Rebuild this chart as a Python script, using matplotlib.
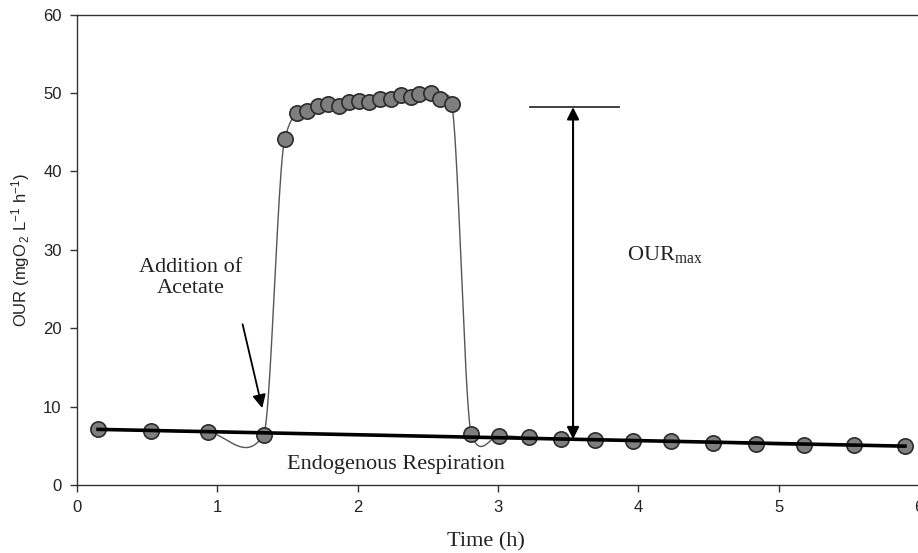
import numpy as np
import matplotlib
matplotlib.use("Agg")
import matplotlib.pyplot as plt

# Oxygen uptake rate during an acetate pulse respirometry test
time_h = [0.15, 0.53, 0.93, 1.33, 1.48, 1.57, 1.64, 1.72, 1.79, 1.87, 1.94,
          2.01, 2.08, 2.16, 2.24, 2.31, 2.38, 2.44, 2.52, 2.59, 2.67, 2.81,
          3.01, 3.22, 3.45, 3.69, 3.96, 4.23, 4.53, 4.84, 5.18, 5.54, 5.90]
our = [7.1, 6.9, 6.7, 6.4, 44.1, 47.4, 47.7, 48.3, 48.6, 48.4, 48.9,
       49.0, 48.8, 49.2, 49.2, 49.7, 49.5, 49.9, 50.0, 49.2, 48.6, 6.5,
       6.3, 6.1, 5.9, 5.7, 5.65, 5.57, 5.4, 5.2, 5.1, 5.06, 4.97]
# indices of the points belonging to the substrate-degradation plateau
plateau = range(4, 21)

our_max = 48.2
our_max_x = 3.535
acetate_time = 1.32

x_ticks = [0, 1, 2, 3, 4, 5, 6]
y_ticks = [0, 10, 20, 30, 40, 50, 60]


def cardinal_spline(x, y, c=0.42, n=40):
    x = np.asarray(x, float)
    y = np.asarray(y, float)
    m = np.zeros_like(y)
    m[1:-1] = c * (y[2:] - y[:-2]) / (x[2:] - x[:-2])
    m[0] = c * (y[1] - y[0]) / (x[1] - x[0])
    m[-1] = c * (y[-1] - y[-2]) / (x[-1] - x[-2])
    xs, ys = [], []
    for i in range(len(x) - 1):
        h = x[i + 1] - x[i]
        t = np.linspace(0, 1, n, endpoint=(i == len(x) - 2))
        h00 = 2 * t**3 - 3 * t**2 + 1
        h10 = t**3 - 2 * t**2 + t
        h01 = -2 * t**3 + 3 * t**2
        h11 = t**3 - t**2
        xs.append(x[i] + t * h)
        ys.append(h00 * y[i] + h10 * h * m[i] + h01 * y[i + 1] + h11 * h * m[i + 1])
    return np.concatenate(xs), np.concatenate(ys)


plt.rcParams["font.family"] = ["Liberation Sans", "DejaVu Sans"]
plt.rcParams["mathtext.fontset"] = "custom"
plt.rcParams["mathtext.rm"] = "Liberation Sans"
plt.rcParams["mathtext.it"] = "Liberation Sans"

fig = plt.figure(figsize=(9.18, 5.53), dpi=100)
ax = fig.add_axes([0.0839, 0.123, 0.9171, 0.8505])

# smooth curve through the measurements
sx, sy = cardinal_spline(time_h, our)
ax.plot(sx, sy, color="#555555", lw=1.0, zorder=2)
ax.plot(time_h, our, "o", ms=11, mfc="#7f7f7f", mec="#2b2b2b", mew=1.2, zorder=3)

# endogenous respiration baseline (linear fit without the plateau)
base_idx = [i for i in range(len(time_h)) if i not in plateau]
bx = np.array([time_h[i] for i in base_idx])
by = np.array([our[i] for i in base_idx])
slope, icpt = np.polyfit(bx, by, 1)
lx = np.array([time_h[0], time_h[-1]])
ax.plot(lx, slope * lx + icpt, color="black", lw=2.6, zorder=4)

serif = ["Liberation Serif", "DejaVu Serif"]

# OURmax double arrow and cap line
base_at_arrow = slope * our_max_x + icpt
ax.annotate("", xy=(our_max_x, our_max), xytext=(our_max_x, base_at_arrow),
            arrowprops=dict(arrowstyle="<|-|>", color="black", lw=1.5,
                            mutation_scale=18, shrinkA=0, shrinkB=0), zorder=5)
ax.plot([3.23, 3.86], [our_max, our_max], color="#333333", lw=1.3, zorder=5)
ax.text(3.92, 29.3, r"OUR$_{\mathregular{max}}$", family=serif, fontsize=16,
        ha="left", va="center", color="#222222")

# substrate addition
ax.annotate("", xy=(acetate_time, 9.8), xytext=(1.18, 20.5),
            arrowprops=dict(arrowstyle="-|>", color="black", lw=1.3,
                            mutation_scale=20, shrinkA=0, shrinkB=0), zorder=5)
ax.text(0.81, 26.4, "Addition of\nAcetate", family=serif, fontsize=16,
        ha="center", va="center", multialignment="center", color="#222222",
        linespacing=1.2)

ax.text(2.27, 2.55, "Endogenous Respiration", family=serif, fontsize=16,
        ha="center", va="center", color="#222222")

ax.set_xlim(0, 6)
ax.set_ylim(0, 60)
ax.set_xticks(x_ticks)
ax.set_yticks(y_ticks)
ax.tick_params(direction="out", length=5, width=1, color="#333333",
               labelsize=12, labelcolor="#222222", pad=6)
ax.spines["right"].set_visible(False)
for s in ("left", "bottom", "top"):
    ax.spines[s].set_color("#333333")
    ax.spines[s].set_linewidth(1.0)

ax.set_xlabel("Time (h)", family=serif, fontsize=16, color="#222222")
ax.xaxis.set_label_coords(0.486, -0.1)
ax.set_ylabel(r"OUR (mgO$_{\,2}$ L$^{-1}$ h$^{-1}$)", fontsize=12, color="#222222")
ax.yaxis.set_label_coords(-0.053, 0.5)

fig.savefig("out.png", dpi=100)
